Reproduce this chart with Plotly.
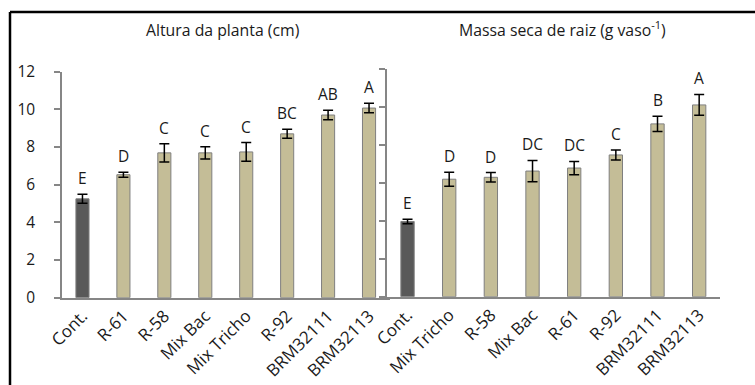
import plotly.graph_objects as go

W, H = 755, 385

cats_left = ["Cont.", "R-61", "R-58", "Mix Bac", "Mix Tricho", "R-92", "BRM32111", "BRM32113"]
vals_left = [5.25, 6.53, 7.69, 7.69, 7.74, 8.70, 9.70, 10.07]
err_left = [0.24, 0.13, 0.49, 0.33, 0.50, 0.24, 0.25, 0.25]
letters_left = ["E", "D", "C", "C", "C", "BC", "AB", "A"]

cats_right = ["Cont.", "Mix Tricho", "R-58", "Mix Bac", "R-61", "R-92", "BRM32111", "BRM32113"]
vals_right = [3.97, 6.20, 6.30, 6.63, 6.79, 7.48, 9.12, 10.12]
err_right = [0.12, 0.37, 0.25, 0.56, 0.35, 0.26, 0.40, 0.55]
letters_right = ["E", "D", "D", "DC", "DC", "C", "B", "A"]

title_left = "Altura da planta (cm)"
title_right = "Massa seca de raiz (g vaso<sup>-1</sup>)"
y_ticks = [0, 2, 4, 6, 8, 10, 12]

FONT = "Open Sans"
TAN = "#C4BD97"
DARK = "#595959"
EDGE = "#7F7F7F"
AXIS = "#868686"
TXT = "#1a1a1a"


def colors(n):
    return [DARK] + [TAN] * (n - 1)


fig = go.Figure()
fig.add_trace(go.Bar(
    x=cats_left, y=vals_left, xaxis="x", yaxis="y",
    marker=dict(color=colors(len(vals_left)), line=dict(color=EDGE, width=1)),
    width=0.32,
    error_y=dict(type="data", array=err_left, color="black", thickness=1.5, width=5),
    showlegend=False,
))
fig.add_trace(go.Bar(
    x=cats_right, y=vals_right, xaxis="x2", yaxis="y2",
    marker=dict(color=colors(len(vals_right)), line=dict(color=EDGE, width=1)),
    width=0.32,
    error_y=dict(type="data", array=err_right, color="black", thickness=1.5, width=5),
    showlegend=False,
))

ann = []
for c, v, e, t in zip(cats_left, vals_left, err_left, letters_left):
    ann.append(dict(x=c, y=v + e, xref="x", yref="y", text=t, showarrow=False,
                    yanchor="bottom", yshift=3, font=dict(family=FONT, size=15.5, color=TXT)))
for c, v, e, t in zip(cats_right, vals_right, err_right, letters_right):
    ann.append(dict(x=c, y=v + e, xref="x2", yref="y2", text=t, showarrow=False,
                    yanchor="bottom", yshift=3, font=dict(family=FONT, size=15.5, color=TXT)))
ann.append(dict(x=223 / W, y=1 - 30 / H, xref="paper", yref="paper", text=title_left,
                showarrow=False, xanchor="center", yanchor="middle",
                font=dict(family=FONT, size=15.8, color=TXT)))
ann.append(dict(x=562 / W, y=1 - 29 / H, xref="paper", yref="paper", text=title_right,
                showarrow=False, xanchor="center", yanchor="middle",
                font=dict(family=FONT, size=15.8, color=TXT)))

xcommon = dict(type="category", showline=True, linecolor=AXIS, linewidth=1.5,
               ticks="", tickangle=-45, showgrid=False, zeroline=False,
               tickfont=dict(family=FONT, size=17, color=TXT))
ycommon = dict(range=[0, 12], tickvals=y_ticks, showline=True, linecolor=AXIS, linewidth=1.5,
               ticks="outside", ticklen=6, tickcolor=AXIS, tickwidth=1.5,
               showgrid=False, zeroline=False,
               tickfont=dict(family=FONT, size=15.5, color=TXT))

fig.update_layout(
    width=W, height=H,
    margin=dict(l=0, r=0, t=0, b=0),
    paper_bgcolor="white", plot_bgcolor="rgba(0,0,0,0)",
    bargap=0.68,
    xaxis=dict(domain=[62 / W, 389.5 / W], anchor="y", automargin=False, **xcommon),
    yaxis=dict(domain=[1 - 297.7 / H, 1 - 71.7 / H], anchor="x", automargin=False,
               ticklabelstandoff=16, **ycommon),
    xaxis2=dict(domain=[386.7 / W, 720 / W], anchor="y2", automargin=False, **xcommon),
    yaxis2=dict(domain=[1 - 296.7 / H, 1 - 69.3 / H], anchor="x2", automargin=False,
                showticklabels=False, **ycommon),
    annotations=ann,
    shapes=[
        dict(type="line", xref="paper", yref="paper", x0=10 / W, x1=10 / W, y0=-0.2, y1=1 - 12 / H,
             line=dict(color="black", width=2.5), layer="above"),
        dict(type="line", xref="paper", yref="paper", x0=10 / W, x1=1.2, y0=1 - 12 / H, y1=1 - 12 / H,
             line=dict(color="black", width=2.5), layer="above"),
    ],
)

fig.write_html("out.html")
